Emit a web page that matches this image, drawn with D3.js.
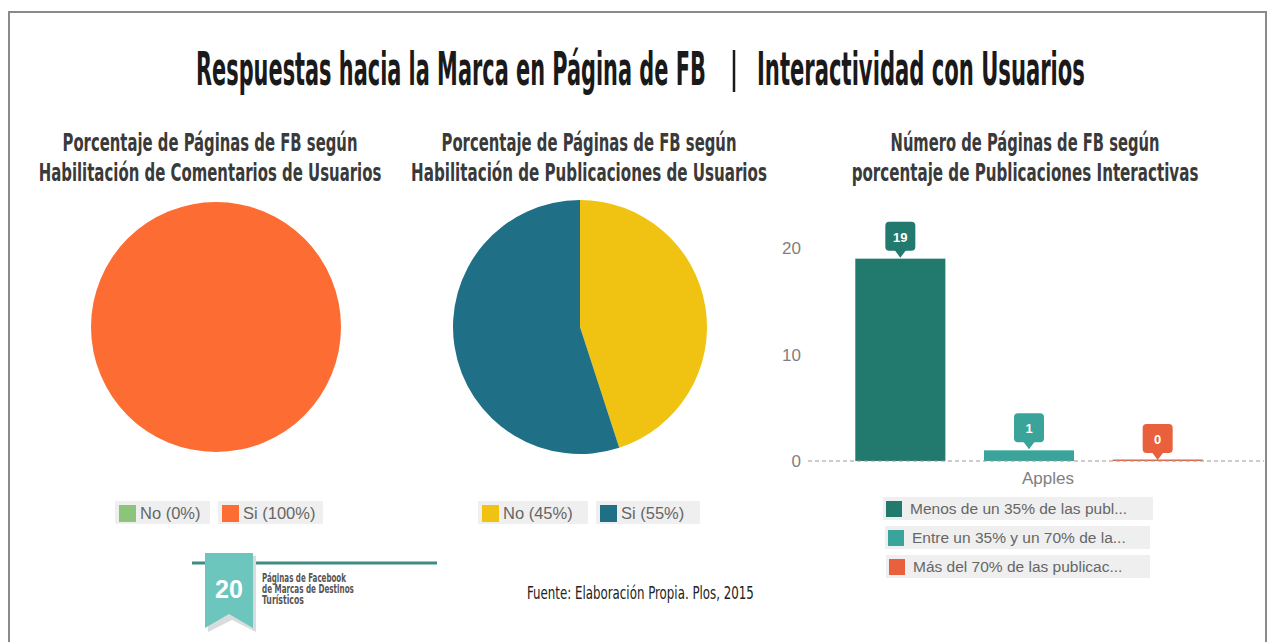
<!DOCTYPE html>
<html>
<head>
<meta charset="utf-8">
<script src="https://cdn.jsdelivr.net/npm/d3@7"></script>
<style>
  body { margin:0; background:#fff; }
  .gtxt { font-family:Arial,"Liberation Sans",sans-serif; fill:#666; }
</style>
</head>
<body>
<script>
// data
var pie1Labels = ["No", "Si"];
var pie1Values = [0, 100];
var pie1Colors = ["#8cc47c", "#fd6c33"];

var pie2Labels = ["No", "Si"];
var pie2Values = [45, 55];
var pie2Colors = ["#f0c312", "#1f7086"];

var barSeries = ["Menos de un 35% de las publ...", "Entre un 35% y un 70% de la...", "Más del 70% de las publicac..."];
var barValues = [19, 1, 0];
var barColors = ["#22796d", "#3aa39a", "#e9603c"];
var barCategory = "Apples";
var yTicks = [0, 10, 20];

var W = 1269, H = 642;
var svg = d3.select("body").append("svg").attr("width", W).attr("height", H);

// condensed text: draw in a narrow font, then squeeze it to the width seen in the picture
function condText(x, y, anchor, size, width, txt, color, weight){
  var t = svg.append("text").attr("x", 0).attr("y", 0)
    .attr("text-anchor", anchor)
    .style("font-family", "'Liberation Sans Narrow','DejaVu Sans Condensed',sans-serif")
    .style("font-weight", weight || "bold")
    .attr("font-size", size).attr("fill", color).text(txt);
  var n = t.node().getComputedTextLength();
  var s = width / n;
  t.attr("transform", "translate(" + x + "," + y + ") scale(" + s + ",1)");
  return t;
}

// frame
svg.append("rect").attr("x", 9).attr("y", 12).attr("width", 1257).attr("height", 640)
  .attr("fill", "none").attr("stroke", "#8a8a8a").attr("stroke-width", 2);

// main title
condText(196, 85, "start", 46, 510, "Respuestas hacia la Marca en Página de FB", "#1a1a1a");
svg.append("line").attr("x1", 734).attr("x2", 734).attr("y1", 50).attr("y2", 92)
  .attr("stroke", "#1a1a1a").attr("stroke-width", 2.5);
condText(757, 85, "start", 46, 328, "Interactividad con Usuarios", "#1a1a1a");

// subtitles
var subs = [
  {cx: 210, lines: ["Porcentaje de Páginas de FB según", "Habilitación de Comentarios de Usuarios"], w: [295, 343]},
  {cx: 589, lines: ["Porcentaje de Páginas de FB según", "Habilitación de Publicaciones de Usuarios"], w: [295, 356]},
  {cx: 1025, lines: ["Número de Páginas de FB según", "porcentaje de Publicaciones Interactivas"], w: [269, 347]}
];
subs.forEach(function(s){
  s.lines.forEach(function(l, i){
    condText(s.cx, 151 + i*30, "middle", 25.5, s.w[i], l, "#3a3a3a");
  });
});

// pies
function drawPie(cx, cy, r, labels, values, colors, legX, legW){
  var g = svg.append("g").attr("transform", "translate(" + cx + "," + cy + ")");
  var pie = d3.pie().sort(null)(values);
  var arc = d3.arc().innerRadius(0).outerRadius(r);
  g.selectAll("path").data(pie).enter().append("path")
    .attr("d", arc)
    .attr("fill", function(d, i){ return colors[i]; });

  var lx = legX;
  labels.forEach(function(l, i){
    var lg = svg.append("g").attr("transform", "translate(" + lx + ",501)");
    lg.append("rect").attr("width", legW[i]).attr("height", 23).attr("fill", "#efefef");
    lg.append("rect").attr("x", 4).attr("y", 4).attr("width", 17).attr("height", 17).attr("fill", colors[i]);
    lg.append("text").attr("class", "gtxt").attr("x", 25).attr("y", 18).attr("font-size", 16.5)
      .text(l + " (" + values[i] + "%)");
    lx += legW[i] + 8;
  });
}
drawPie(216, 327, 125, pie1Labels, pie1Values, pie1Colors, 115, [95, 105]);
drawPie(580, 327, 127, pie2Labels, pie2Values, pie2Colors, 478, [110, 104]);

// bar chart
var x = d3.scaleBand().domain(barSeries).range([836, 1222]).paddingInner(0.3).paddingOuter(0.15);
var y = d3.scaleLinear().domain([0, 20]).range([461, 248]);

svg.append("g").selectAll("text").data(yTicks).enter().append("text")
  .attr("class", "gtxt").attr("x", 801).attr("y", function(d){ return y(d) + 6; })
  .attr("text-anchor", "end").attr("font-size", 17).style("fill", "#808080")
  .text(function(d){ return d; });

svg.selectAll("rect.bar").data(barValues).enter().append("rect").attr("class", "bar")
  .attr("x", function(d, i){ return x(barSeries[i]); })
  .attr("y", function(d){ return Math.min(y(d), y(0) - 1.5); })
  .attr("width", x.bandwidth())
  .attr("height", function(d){ return Math.max(y(0) - y(d), 1.5); })
  .attr("fill", function(d, i){ return barColors[i]; });

svg.append("line").attr("x1", 808).attr("x2", 1264).attr("y1", y(0)).attr("y2", y(0))
  .attr("stroke", "#999").attr("stroke-width", 1).attr("stroke-dasharray", "4,3");

svg.append("text").attr("class", "gtxt").attr("x", 1048).attr("y", 484)
  .attr("text-anchor", "middle").attr("font-size", 17).style("fill", "#808080").text(barCategory);

// value callouts
barValues.forEach(function(v, i){
  var cx = x(barSeries[i]) + x.bandwidth()/2;
  var tip = y(v) - 1;
  var g = svg.append("g");
  g.append("rect").attr("x", cx - 15).attr("y", tip - 36).attr("width", 30).attr("height", 29)
    .attr("rx", 4).attr("fill", barColors[i]);
  g.append("path").attr("d", "M" + (cx - 6) + "," + (tip - 8) + "L" + cx + "," + tip + "L" + (cx + 6) + "," + (tip - 8) + "Z")
    .attr("fill", barColors[i]);
  g.append("text").attr("x", cx).attr("y", tip - 16).attr("text-anchor", "middle")
    .attr("font-family", "Arial,'Liberation Sans',sans-serif").attr("font-weight", "bold")
    .attr("font-size", 13).attr("fill", "#fff").text(v);
});

// bar legend
var legBoxes = [{x: 883, w: 270}, {x: 885, w: 265}, {x: 886, w: 264}];
barSeries.forEach(function(s, i){
  var lg = svg.append("g").attr("transform", "translate(" + legBoxes[i].x + "," + (497 + i*29) + ")");
  lg.append("rect").attr("width", legBoxes[i].w).attr("height", 23).attr("fill", "#efefef");
  lg.append("rect").attr("x", 3).attr("y", 4).attr("width", 16).attr("height", 16).attr("fill", barColors[i]);
  lg.append("text").attr("class", "gtxt").attr("x", 27).attr("y", 17).attr("font-size", 15.5).text(s);
});

// badge
svg.append("line").attr("x1", 192).attr("x2", 437).attr("y1", 563).attr("y2", 563)
  .attr("stroke", "#3f8c84").attr("stroke-width", 3);
svg.append("path").attr("d", "M208,556 L256,556 L256,632 L232,620 L208,632 Z").attr("fill", "#d9dcdc");
svg.append("path").attr("d", "M205,553 L253,553 L253,628 L229,614 L205,628 Z").attr("fill", "#6cc6bd");
svg.append("text").attr("x", 229).attr("y", 598).attr("text-anchor", "middle")
  .attr("font-family", "Arial,'Liberation Sans',sans-serif").attr("font-weight", "bold")
  .attr("font-size", 25).attr("fill", "#fff").text("20");
["Páginas de Facebook", "de Marcas de Destinos", "Turísticos"].forEach(function(t, i){
  condText(262, 582 + i*11, "start", 11.5, [84, 92, 42][i], t, "#555");
});

// source
condText(527, 599, "start", 17, 227, "Fuente: Elaboración Propia. Plos, 2015", "#222", "normal");
</script>
</body>
</html>
